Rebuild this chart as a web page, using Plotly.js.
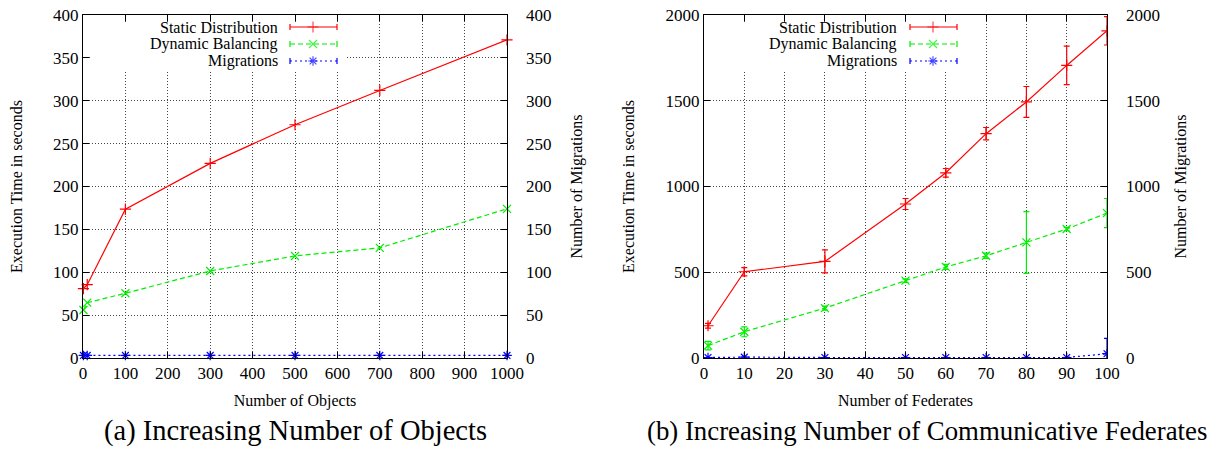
<!DOCTYPE html>
<html>
<head>
<meta charset="utf-8">
<script src="https://cdn.plot.ly/plotly-3.0.1.min.js"></script>
<style>html,body{margin:0;padding:0;background:#fff;}#chart{width:1217px;height:450px;}</style>
</head>
<body>
<div id="chart"></div>
<script>
// ---------- DATA ----------
// (a) Increasing Number of Objects
var objX = [1, 10, 100, 300, 500, 700, 1000];
var objStatic = [81, 85.5, 173.5, 227, 272, 312, 371];
var objDynamic = [56, 64.5, 75.5, 101.5, 119, 128.5, 174];
var objMigrations = [3, 3, 3, 3, 3, 3, 3];

// (b) Increasing Number of Communicative Federates
var fedX = [1, 10, 30, 50, 60, 70, 80, 90, 100];
var fedStatic = [188, 503, 563, 898, 1080, 1308, 1493, 1706, 1908];
var fedStaticErr = [14, 24, 67, 32, 25, 36, 90, 112, 83];
var fedDynamic = [72, 153, 291, 451, 531, 596, 674, 752, 845];
var fedDynamicErr = [25, 29, 12, 10, 15, 15, 180, 10, 85];
var fedMigrations = [3, 5, 3, 3, 3, 3, 3, 3, 25];
var fedMigrationsErr = [0, 0, 0, 0, 0, 0, 0, 0, 90];

var seriesNames = ["Static Distribution", "Dynamic Balancing", "Migrations"];
var captions = ["(a) Increasing Number of Objects", "(b) Increasing Number of Communicative Federates"];
var xTitles = ["Number of Objects", "Number of Federates"];
var yTitle = "Execution Time in seconds";
var y2Title = "Number of Migrations";

// ---------- STYLE / LAYOUT CONSTANTS ----------
var W = 1217, H = 450;
var FONT = "Liberation Serif, Times New Roman, serif";
var colors = ["#ff0000", "#00ee00", "#0000ff"];
var symbols = ["cross-thin-open", "x-thin-open", "asterisk-open"];
var dashes = ["solid", "5px,3px", "2px,3px"];
var plotTop = 15, plotBottom = 358;
var leftPlot = [83, 507], rightPlot = [704, 1107];
var yDom = [(H - plotBottom) / H, (H - plotTop) / H];
function xd(p) { return [p[0] / W, p[1] / W]; }

function styleLine(i) { return {color: colors[i], width: 1.2, dash: dashes[i]}; }
function styleMarker(i) { return {symbol: symbols[i], size: 8, color: colors[i], line: {color: colors[i], width: 1.2}}; }

var traces = [];
// left chart (migrations plotted against the right-hand axis)
var leftAxes = ["y", "y", "y2"];
[objStatic, objDynamic, objMigrations].forEach(function (ys, i) {
  traces.push({
    type: "scatter", mode: "lines+markers", x: objX, y: ys, xaxis: "x", yaxis: leftAxes[i],
    name: seriesNames[i], line: styleLine(i), marker: styleMarker(i), showlegend: false,
    cliponaxis: false
  });
});
// right chart
var rightAxes = ["y3", "y3", "y4"];
[[fedStatic, fedStaticErr], [fedDynamic, fedDynamicErr], [fedMigrations, fedMigrationsErr]].forEach(function (s, i) {
  traces.push({
    type: "scatter", mode: "lines+markers", x: fedX, y: s[0], xaxis: "x2", yaxis: rightAxes[i],
    name: seriesNames[i], line: styleLine(i), marker: styleMarker(i), showlegend: false,
    error_y: {type: "data", array: s[1], visible: true, color: colors[i], thickness: 1.2, width: 3},
    cliponaxis: true
  });
});

// key samples (gnuplot style: text then sample), in pixel coords on a hidden full-page axis
var keyRows = [27, 44, 61];
var keys = [{textRight: 280, x0: 290, xm: 313, x1: 337}, {textRight: 899, x0: 910, xm: 933, x1: 957}];
var annotations = [];
keys.forEach(function (k) {
  keyRows.forEach(function (ry, i) {
    traces.push({
      type: "scatter", mode: "lines+markers", x: [k.x0, k.xm, k.x1], y: [ry, ry, ry],
      xaxis: "x3", yaxis: "y5", showlegend: false, hoverinfo: "skip",
      line: styleLine(i),
      marker: {symbol: symbols[i], size: [0, 8, 0], color: colors[i], line: {color: colors[i], width: 1.2}},
      error_y: {type: "data", array: [3, 0, 3], visible: true, color: colors[i], thickness: 1.2, width: 0}
    });
    annotations.push({
      xref: "paper", yref: "paper", x: k.textRight / W, y: (H - ry) / H,
      xanchor: "right", yanchor: "middle", showarrow: false, text: seriesNames[i],
      font: {family: FONT, size: 16, color: "#000"}
    });
  });
});
// captions
annotations.push({xref: "paper", yref: "paper", x: 295 / W, y: (H - 431) / H, xanchor: "center", yanchor: "middle",
  showarrow: false, text: captions[0], font: {family: FONT, size: 28.5, color: "#000"}});
annotations.push({xref: "paper", yref: "paper", x: 927 / W, y: (H - 431) / H, xanchor: "center", yanchor: "middle",
  showarrow: false, text: captions[1], font: {family: FONT, size: 26.8, color: "#000"}});

var tickFont = {family: FONT, size: 17, color: "#000"};
var titleFont = {family: FONT, size: 16, color: "#000"};
function xAxis(dom, range, dtick, anchor, title) {
  return {
    domain: xd(dom), range: range, dtick: dtick, tick0: 0, anchor: anchor,
    showline: true, linecolor: "#000", linewidth: 1, mirror: "ticks",
    ticks: "inside", ticklen: 6, tickcolor: "#000", tickwidth: 1,
    showgrid: true, gridcolor: "#444", gridwidth: 1, griddash: "1px,2px",
    zeroline: false, tickfont: tickFont, fixedrange: true,
    title: {text: title, font: titleFont, standoff: 12}, automargin: false
  };
}
function yAxis(range, dtick, anchor, title) {
  return {
    domain: yDom, range: range, dtick: dtick, tick0: 0, anchor: anchor,
    showline: true, linecolor: "#000", linewidth: 1, mirror: "ticks",
    ticks: "inside", ticklen: 6, tickcolor: "#000", tickwidth: 1,
    showgrid: true, gridcolor: "#444", gridwidth: 1, griddash: "1px,2px",
    zeroline: false, tickfont: tickFont, fixedrange: true,
    title: {text: title, font: titleFont, standoff: 26}, automargin: false
  };
}
function y2Axis(range, dtick, anchor, overlay, title, standoff) {
  return {
    overlaying: overlay, side: "right", anchor: anchor, range: range, dtick: dtick, tick0: 0,
    showline: false, ticks: "", showgrid: false, zeroline: false, tickfont: tickFont,
    fixedrange: true, ticklabelstandoff: 18,
    title: {text: title, font: titleFont, standoff: standoff}, automargin: false
  };
}

var layout = {
  width: W, height: H,
  margin: {l: 0, r: 0, t: 0, b: 0, pad: 0},
  paper_bgcolor: "#fff", plot_bgcolor: "rgba(0,0,0,0)",
  showlegend: false,
  font: {family: FONT, color: "#000"},
  xaxis: xAxis(leftPlot, [0, 1000], 100, "y", xTitles[0]),
  yaxis: yAxis([0, 400], 50, "x", yTitle),
  yaxis2: y2Axis([0, 400], 50, "x", "y", y2Title, 20),
  xaxis2: xAxis(rightPlot, [0, 100], 10, "y3", xTitles[1]),
  yaxis3: yAxis([0, 2000], 500, "x2", yTitle),
  yaxis4: y2Axis([0, 2000], 500, "x2", "y3", y2Title, 15),
  xaxis3: {domain: [0, 1], range: [0, W], visible: false, fixedrange: true, anchor: "y5"},
  yaxis5: {domain: [0, 1], range: [H, 0], visible: false, fixedrange: true, anchor: "x3"},
  shapes: [
    {type: "rect", xref: "x3", yref: "y5", x0: 90, x1: 345, y0: 22, y1: 70,
      fillcolor: "#fff", line: {width: 0}, layer: "below"},
    {type: "rect", xref: "x3", yref: "y5", x0: 710, x1: 965, y0: 22, y1: 70,
      fillcolor: "#fff", line: {width: 0}, layer: "below"}
  ],
  annotations: annotations
};

Plotly.newPlot("chart", traces, layout, {staticPlot: true, displayModeBar: false});
</script>
</body>
</html>
